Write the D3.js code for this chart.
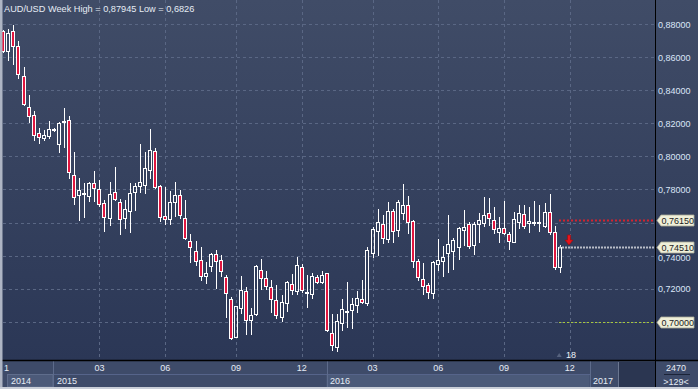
<!DOCTYPE html>
<html>
<head>
<meta charset="utf-8">
<script src="https://cdn.jsdelivr.net/npm/d3@7"></script>
<style>
  html, body { margin: 0; padding: 0; background: #2f3b58; }
  svg { display: block; font-family: "Liberation Sans", Arial, sans-serif; }
</style>
</head>
<body>
<div id="chart"></div>
<script>
// weekly AUD/USD candles, Oct 2014 .. Nov 2016
const open = [
  .8758,.8637,.8758,.8665,.8486,.8297,.8248,.8141,.8109,.8125,
  .8160,.8073,.8216,.8220,.7888,.7765,.7775,.7763,.7837,.7801,
  .7717,.7626,.7785,.7723,.7626,.7668,.7787,.7819,.7827,.7916,
  .8031,.7819,.7638,.7620,.7726,.7765,.7626,.7487,.7427,.7372,
  .7277,.7340,.7408,.7374,.7269,.7137,.6911,.7082,.7187,.7013,
  .7046,.7312,.7263,.7213,.7131,.7028,.7112,.7227,.7187,.7330,
  .7183,.7167,.7273,.7243,.7294,.6931,.6850,.6995,.7060,.7070,
  .7100,.7137,.7116,.7419,.7547,.7592,.7501,.7668,.7555,.7656,
  .7706,.7610,.7368,.7259,.7221,.7176,.7348,.7370,.7418,.7430,
  .7454,.7557,.7592,.7465,.7590,.7600,.7656,.7614,.7545,.7566,
  .7531,.7485,.7605,.7650,.7596,.7601,.7601,.7581,.7666,.7545,
  .7330];
const high = [
  .8764,.8770,.87945,.8697,.8538,.8371,.8274,.8170,.8158,.8214,
  .8172,.8210,.8291,.8244,.8025,.7871,.7837,.7847,.7912,.7857,
  .7737,.7847,.7936,.7741,.7737,.7841,.7841,.8075,.8025,.8166,
  .8049,.7825,.7813,.7791,.7845,.7797,.7737,.7531,.7489,.7451,
  .7364,.7418,.7434,.7404,.7283,.7152,.7098,.7277,.7213,.7082,
  .7344,.7380,.7308,.7253,.7223,.7163,.7245,.7289,.7390,.7350,
  .7283,.7294,.7283,.7308,.7297,.7048,.7048,.7137,.7241,.7147,
  .7184,.7253,.7451,.7575,.7682,.7646,.7723,.7680,.7737,.7833,
  .7761,.7616,.7378,.7358,.7237,.7366,.7501,.7460,.7646,.7505,
  .7575,.7676,.7605,.7602,.7656,.7757,.7747,.7696,.7636,.7732,
  .7545,.7666,.7706,.7706,.7696,.7731,.7706,.7720,.7773,.7579,
  .7465];
const low = [
  .8631,.8582,.8558,.8476,.8311,.8210,.8101,.8083,.8102,.8113,
  .8153,.8028,.8059,.7868,.7711,.7616,.7636,.7732,.7732,.7702,
  .7551,.7586,.7737,.7529,.7569,.7545,.7676,.7787,.7781,.7868,
  .7807,.7610,.7593,.7593,.7640,.7626,.7501,.7364,.7344,.7253,
  .7233,.7309,.7203,.7279,.7031,.6895,.6909,.7056,.6927,.6927,
  .7040,.7197,.7197,.7062,.7022,.7005,.7066,.7167,.7167,.7179,
  .7092,.7143,.7233,.7233,.6945,.6830,.6826,.6951,.6971,.6966,
  .7062,.7112,.7100,.7390,.7404,.7475,.7485,.7485,.7521,.7620,
  .7539,.7334,.7253,.7169,.7143,.7143,.7314,.7277,.7303,.7318,
  .7378,.7465,.7448,.7410,.7481,.7579,.7586,.7535,.7485,.7529,
  .7439,.7481,.7566,.7569,.7545,.7586,.7551,.7575,.7531,.7318,
  .7303];
const close = [
  .8637,.8744,.8665,.8500,.8315,.8242,.8127,.8115,.8127,.8164,
  .8167,.8202,.8214,.7908,.7757,.7797,.7777,.7841,.7807,.7712,
  .7632,.7771,.7744,.7624,.7680,.7777,.7821,.7845,.7928,.8039,
  .7817,.7636,.7620,.7724,.7765,.7648,.7509,.7451,.7370,.7277,
  .7294,.7408,.7370,.7309,.7173,.6901,.7096,.7191,.7010,.7042,
  .7336,.7263,.7217,.7137,.7040,.7122,.7241,.7193,.7342,.7193,
  .7173,.7277,.7243,.7281,.6951,.6859,.7005,.7080,.7064,.7106,
  .7143,.7118,.7434,.7560,.7602,.7505,.7672,.7547,.7723,.7706,
  .7602,.7366,.7269,.7219,.7179,.7360,.7374,.7390,.7471,.7495,
  .7566,.7572,.7460,.7594,.7614,.7646,.7626,.7560,.7566,.7535,
  .7489,.7620,.7656,.7581,.7612,.7603,.7599,.7666,.7541,.7334,
  .7451];

// x axis: candle index of the first week of each month / year
const monthIdx = [19, 32, 46, 59, 73, 86, 99, 112];
const monthLabels = ["03", "06", "09", "12", "03", "06", "09", "12"];
const yearIdx = [10, 64, 116];
const yearLabels = ["2015", "2016", "2017"];
const yTicks = [0.70, 0.72, 0.74, 0.76, 0.78, 0.80, 0.82, 0.84, 0.86, 0.88];

// price markers on the right
const markerValues = [0.7615, 0.7451, 0.70];
const markerLabels = ["0,76150", "0,74510", "0,70000"];
const markerColors = ["#d3232f", "#b9bdc8", "#a8c83a"];

const title = "AUD/USD Week High = 0,87945 Low = 0,6826";

const W = 698, H = 389;
const plotRight = 655, plotBottom = 360;

const svg = d3.select("#chart").append("svg")
  .attr("width", W).attr("height", H);

const defs = svg.append("defs");
const grad = defs.append("linearGradient").attr("id", "bg")
  .attr("x1", 0).attr("y1", 0).attr("x2", 0).attr("y2", 1);
grad.append("stop").attr("offset", "0%").attr("stop-color", "#404c67");
grad.append("stop").attr("offset", "100%").attr("stop-color", "#2b3756");

svg.append("rect").attr("width", W).attr("height", plotBottom).attr("fill", "url(#bg)");

const x = d3.scaleLinear().domain([0, 110]).range([3.3, 559.7]);
const y = d3.scaleLinear().domain([0.70, 0.88]).range([321.9, 24]);

const fmt = v => d3.format(".5f")(v).replace(".", ",");
const crisp = v => Math.round(v) + 0.5;

// grid
const grid = svg.append("g").attr("stroke", "#5a6784").attr("stroke-dasharray", "3,3");
grid.selectAll("line.h").data(yTicks).enter().append("line")
  .attr("x1", 3).attr("x2", plotRight)
  .attr("y1", d => crisp(y(d))).attr("y2", d => crisp(y(d)));
grid.selectAll("line.v").data(monthIdx).enter().append("line")
  .attr("y1", 0).attr("y2", plotBottom)
  .attr("x1", d => crisp(x(d))).attr("x2", d => crisp(x(d)));

// candles
const candles = d3.range(open.length).map(i => ({
  i, o: open[i], h: high[i], l: low[i], c: close[i]
}));
const cg = svg.append("g");
candles.forEach(d => {
  const cx = Math.round(x(d.i));
  const top = Math.round(y(Math.max(d.o, d.c)));
  const bot = Math.max(Math.round(y(Math.min(d.o, d.c))), top + 1);
  const up = d.c >= d.o;
  cg.append("line").attr("x1", cx + 0.5).attr("x2", cx + 0.5)
    .attr("y1", Math.round(y(d.h))).attr("y2", top)
    .attr("stroke", "#fff");
  cg.append("line").attr("x1", cx + 0.5).attr("x2", cx + 0.5)
    .attr("y1", bot).attr("y2", Math.round(y(d.l)) + 1)
    .attr("stroke", "#fff");
  cg.append("rect")
    .attr("x", cx - 1.5).attr("y", top + 0.5)
    .attr("width", 3).attr("height", bot - top)
    .attr("fill", up ? "none" : "#e0163f")
    .attr("stroke", "#fff");
});

// marker lines
markerValues.forEach((v, k) => {
  svg.append("line")
    .attr("x1", 559).attr("x2", plotRight)
    .attr("y1", crisp(y(v))).attr("y2", crisp(y(v)))
    .attr("stroke", markerColors[k])
    .attr("stroke-width", k === 2 ? 1 : 2)
    .attr("stroke-dasharray", k === 1 ? "2,1" : "2,2");
});

// red down arrow
const ax = 569, ay = 235;
svg.append("path")
  .attr("d", `M${ax - 1.5},${ay} L${ax + 1.5},${ay} L${ax + 1.5},${ay + 5} L${ax + 4},${ay + 5} L${ax},${ay + 10} L${ax - 4},${ay + 5} L${ax - 1.5},${ay + 5} Z`)
  .attr("fill", "#e8141c").attr("stroke", "#a00c10").attr("stroke-width", 0.7);

// "18" marker at the bottom of the plot
svg.append("path")
  .attr("d", `M${x(110) - 3},357 L${x(110) + 2},357 L${x(110) - 0.5},353 Z`)
  .attr("fill", "#56627e");
svg.append("text").attr("x", 566).attr("y", 358)
  .attr("font-size", 9).attr("fill", "#eef2f8").text("18");

// title
svg.append("text").attr("x", 4).attr("y", 12)
  .attr("font-size", 9.2).attr("fill", "#e6ecf5").text(title);

// right axis panel; labels hidden under a price tag are left out,
// labels just below a tag are pushed clear of it
svg.append("rect").attr("x", plotRight).attr("y", 0).attr("width", W - plotRight).attr("height", plotBottom)
  .attr("fill", "url(#bg)");
const visibleTicks = yTicks.filter(t => markerValues.every(m => Math.abs(y(t) - y(m)) > 6));
const labelY = t => {
  let ly = y(t) + 3.5;
  markerValues.forEach(m => {
    const tagBottom = Math.round(y(m)) + 6;
    if (y(t) > y(m) && ly - 7 < tagBottom) ly = tagBottom + 7.5;
  });
  return ly;
};
svg.append("g").selectAll("text").data(visibleTicks).enter().append("text")
  .attr("x", 658).attr("y", labelY)
  .attr("font-size", 9).attr("fill", "#dbe6f8")
  .text(fmt);

// price tags
markerValues.forEach((v, k) => {
  const ty = Math.round(y(v)) + 0.5;
  svg.append("path")
    .attr("d", `M657,${ty} L661,${ty - 5.5} L694,${ty - 5.5} L694,${ty + 5.5} L661,${ty + 5.5} Z`)
    .attr("fill", "#efefd9").attr("stroke", "#a9aa98").attr("stroke-width", 0.8);
  svg.append("text").attr("x", 661.5).attr("y", ty + 3.5)
    .attr("font-size", 9).attr("fill", "#1c1c1c").text(markerLabels[k]);
});

// bottom axis rows
const axisG = svg.append("g");
axisG.append("rect").attr("x", 0).attr("y", plotBottom).attr("width", W).attr("height", H - plotBottom)
  .attr("fill", "#3e4b69");
// year row boxes
axisG.append("rect").attr("x", 7.5).attr("y", 374.5).attr("width", 45.5).attr("height", 12.5)
  .attr("fill", "#4c5a79").attr("stroke", "#5f6d8c");
axisG.append("rect").attr("x", x(yearIdx[1]) - 0.5).attr("y", 374.5)
  .attr("width", x(yearIdx[2]) - x(yearIdx[1])).attr("height", 12.5)
  .attr("fill", "#4b5a79");
axisG.append("line").attr("x1", 53).attr("x2", x(yearIdx[2])).attr("y1", 374.5).attr("y2", 374.5)
  .attr("stroke", "#56648a");
// separators
[x(yearIdx[0]) - 0.5, x(yearIdx[1]) - 0.5, x(yearIdx[2]) - 0.5].forEach(sx => {
  axisG.append("line").attr("x1", crisp(sx)).attr("x2", crisp(sx))
    .attr("y1", 361).attr("y2", 387).attr("stroke", "#5d6b8b");
});
axisG.append("rect").attr("x", 619).attr("y", 362).attr("width", plotRight - 619).attr("height", 25)
  .attr("fill", "#2b3651");
axisG.append("line").attr("x1", 618.5).attr("x2", 618.5).attr("y1", 362).attr("y2", 387)
  .attr("stroke", "#6a7690");

axisG.selectAll("text.m").data(monthIdx).enter().append("text")
  .attr("x", d => x(d)).attr("y", 371).attr("text-anchor", "middle")
  .attr("font-size", 9).attr("fill", "#e6ecf5")
  .text((d, k) => monthLabels[k]);
axisG.append("text").attr("x", 4).attr("y", 371)
  .attr("font-size", 9).attr("fill", "#e6ecf5").text("1");

axisG.append("text").attr("x", 11).attr("y", 384)
  .attr("font-size", 9).attr("fill", "#e6ecf5").text("2014");
axisG.selectAll("text.y").data(yearIdx).enter().append("text")
  .attr("x", d => x(d) + 3).attr("y", 384)
  .attr("font-size", 9).attr("fill", "#e6ecf5")
  .text((d, k) => yearLabels[k]);

// bottom-right info box
axisG.append("text").attr("x", 676).attr("y", 370.5).attr("text-anchor", "middle")
  .attr("font-size", 9).attr("fill", "#e6ecf5").text("2470");
axisG.append("line").attr("x1", 664).attr("x2", 690).attr("y1", 374.5).attr("y2", 374.5)
  .attr("stroke", "#1c2438");
axisG.append("text").attr("x", 676).attr("y", 384.5).attr("text-anchor", "middle")
  .attr("font-size", 9).attr("fill", "#e6ecf5").text(">129<");

// frame lines
svg.append("line").attr("x1", 0).attr("x2", W).attr("y1", plotBottom + 0.5).attr("y2", plotBottom + 0.5)
  .attr("stroke", "#000").attr("stroke-width", 1.5);
svg.append("line").attr("x1", plotRight + 0.5).attr("x2", plotRight + 0.5).attr("y1", 0).attr("y2", H)
  .attr("stroke", "#000");
svg.append("rect").attr("x", 0).attr("y", 0).attr("width", 2.5).attr("height", H).attr("fill", "#aeb5c4");
svg.append("rect").attr("x", 0).attr("y", H - 2).attr("width", W).attr("height", 2).attr("fill", "#c9ced8");
</script>
</body>
</html>
